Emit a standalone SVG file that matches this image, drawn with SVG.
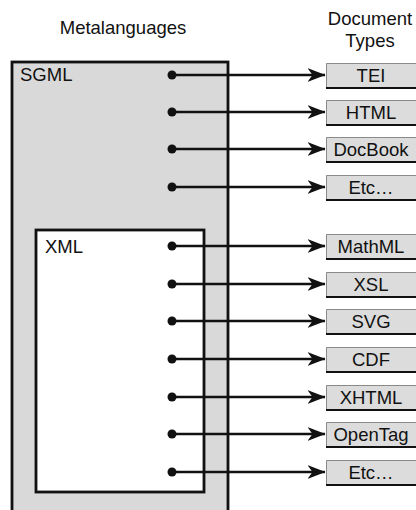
<svg xmlns="http://www.w3.org/2000/svg" width="416" height="510" viewBox="0 0 416 510">
  <style>
    .lbl { font-family: "Liberation Sans", Arial, sans-serif; font-size: 18.5px; fill: #111; }
    .mid { text-anchor: middle; }
    .frame { stroke: #111; stroke-width: 2.8; }
    .doc-face { fill: #dcdcdc; }
    .doc-hi { stroke: #8a8a8a; stroke-width: 1; fill: none; }
    .doc-lo { stroke: #111; stroke-width: 2.2; fill: none; }
    .link { stroke: #111; stroke-width: 2.4; fill: none; }
    .dot { fill: #111; }
  </style>
  <defs>
    <marker id="arrow" viewBox="0 0 18 14" refX="17.5" refY="7" markerWidth="18" markerHeight="14" markerUnits="userSpaceOnUse" orient="auto">
      <path d="M0,0 L18,7 L0,14 L5,7 Z" fill="#111"/>
    </marker>
    <g id="docbox">
      <rect class="doc-face" x="0" y="-12" width="92" height="25"/>
      <path class="doc-hi" d="M0.5,13 V-11.5 H92"/>
      <path class="doc-lo" d="M0,13 H92"/>
    </g>
  </defs>

  <!-- column headings -->
  <text class="lbl mid" x="123" y="34">Metalanguages</text>
  <text class="lbl mid" x="370" y="25">Document</text>
  <text class="lbl mid" x="370" y="47">Types</text>

  <!-- metalanguage containers -->
  <g id="sgml">
    <rect class="frame" x="12" y="62" width="216" height="460" fill="#d9d9d9"/>
    <text class="lbl" x="20" y="81">SGML</text>
  </g>
  <g id="xml">
    <rect class="frame" x="36" y="230" width="168" height="262" fill="#ffffff"/>
    <text class="lbl" x="45" y="253">XML</text>
  </g>

  <!-- document type boxes -->
  <g id="tei"><use href="#docbox" x="326" y="75"/><text class="lbl mid" x="371" y="82">TEI</text></g>
  <g id="html"><use href="#docbox" x="326" y="112"/><text class="lbl mid" x="371" y="119">HTML</text></g>
  <g id="docbook"><use href="#docbox" x="326" y="149"/><text class="lbl mid" x="371" y="156">DocBook</text></g>
  <g id="etc-sgml"><use href="#docbox" x="326" y="187"/><text class="lbl mid" x="371" y="194">Etc…</text></g>
  <g id="mathml"><use href="#docbox" x="326" y="246"/><text class="lbl mid" x="371" y="253">MathML</text></g>
  <g id="xsl"><use href="#docbox" x="326" y="284"/><text class="lbl mid" x="371" y="291">XSL</text></g>
  <g id="svg"><use href="#docbox" x="326" y="321"/><text class="lbl mid" x="371" y="328">SVG</text></g>
  <g id="cdf"><use href="#docbox" x="326" y="359"/><text class="lbl mid" x="371" y="366">CDF</text></g>
  <g id="xhtml"><use href="#docbox" x="326" y="397"/><text class="lbl mid" x="371" y="404">XHTML</text></g>
  <g id="opentag"><use href="#docbox" x="326" y="434"/><text class="lbl mid" x="371" y="441">OpenTag</text></g>
  <g id="etc-xml"><use href="#docbox" x="326" y="472"/><text class="lbl mid" x="371" y="479">Etc…</text></g>

  <!-- connectors -->
  <g id="connectors">
    <g class="dot">
      <circle cx="172" cy="75" r="4.5"/>
      <circle cx="172" cy="112" r="4.5"/>
      <circle cx="172" cy="149" r="4.5"/>
      <circle cx="172" cy="187" r="4.5"/>
      <circle cx="172" cy="246" r="4.5"/>
      <circle cx="172" cy="284" r="4.5"/>
      <circle cx="172" cy="321" r="4.5"/>
      <circle cx="172" cy="359" r="4.5"/>
      <circle cx="172" cy="397" r="4.5"/>
      <circle cx="172" cy="434" r="4.5"/>
      <circle cx="172" cy="472" r="4.5"/>
    </g>
    <path class="link" marker-end="url(#arrow)" d="M172,75 H325"/>
    <path class="link" marker-end="url(#arrow)" d="M172,112 H325"/>
    <path class="link" marker-end="url(#arrow)" d="M172,149 H325"/>
    <path class="link" marker-end="url(#arrow)" d="M172,187 H325"/>
    <path class="link" marker-end="url(#arrow)" d="M172,246 H325"/>
    <path class="link" marker-end="url(#arrow)" d="M172,284 H325"/>
    <path class="link" marker-end="url(#arrow)" d="M172,321 H325"/>
    <path class="link" marker-end="url(#arrow)" d="M172,359 H325"/>
    <path class="link" marker-end="url(#arrow)" d="M172,397 H325"/>
    <path class="link" marker-end="url(#arrow)" d="M172,434 H325"/>
    <path class="link" marker-end="url(#arrow)" d="M172,472 H325"/>
  </g>
</svg>
